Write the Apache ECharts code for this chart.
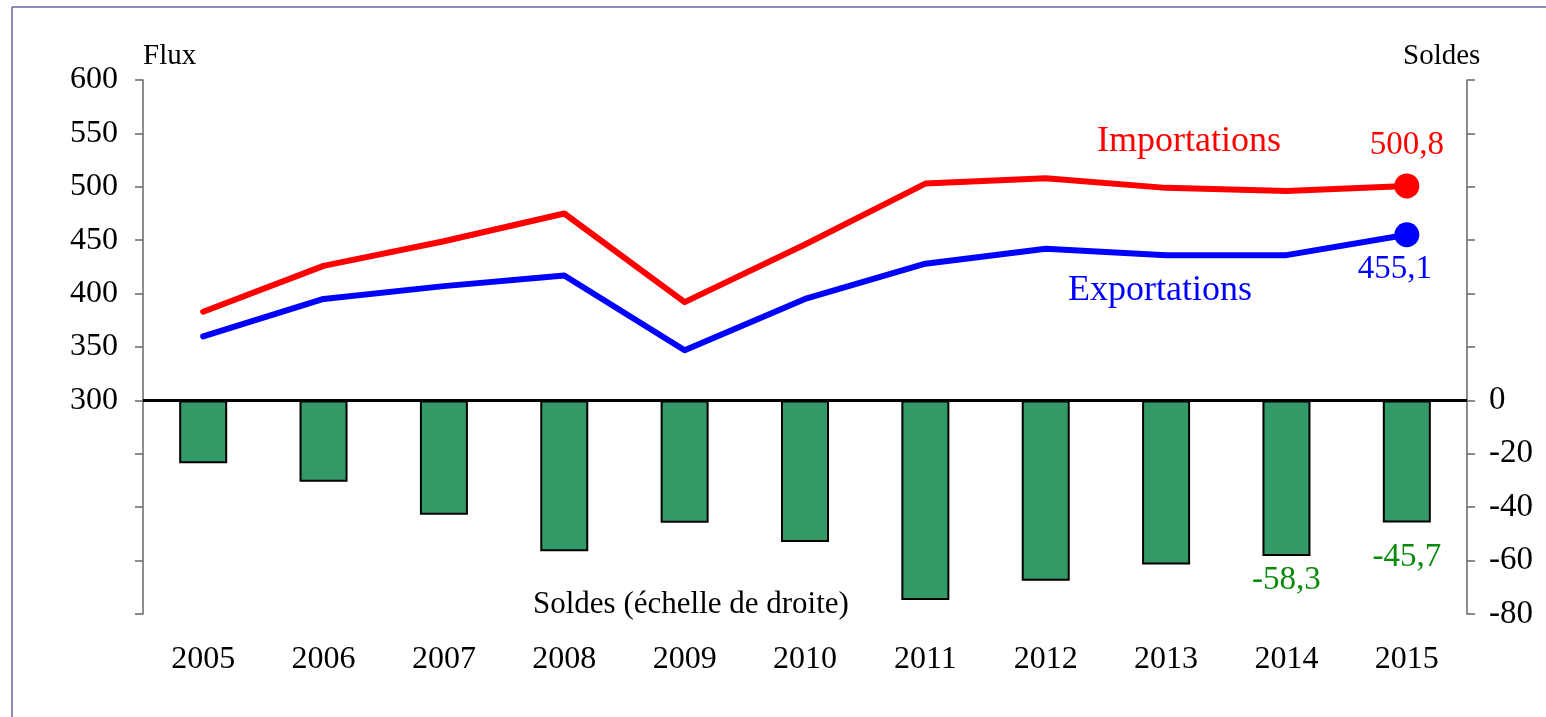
<!DOCTYPE html>
<html>
<head>
<meta charset="utf-8">
<script src="https://cdn.jsdelivr.net/npm/echarts@6/dist/echarts.min.js"></script>
<style>
html, body { margin: 0; padding: 0; background: #fff; }
#chart { width: 1546px; height: 717px; }
</style>
</head>
<body>
<div id="chart"></div>
<script>
// données
var annees = ['2005', '2006', '2007', '2008', '2009', '2010', '2011', '2012', '2013', '2014', '2015'];
var importations = [383, 426, 449, 475, 392, 446, 503, 508, 499, 496, 500.8];
var exportations = [360, 395, 407, 417, 347, 395, 428, 442, 436, 436, 455.1];
var soldes = [-23.5, -30.5, -42.8, -56.5, -45.8, -53, -74.8, -67.5, -61.5, -58.3, -45.7];
var etiquettesSoldes = ['', '', '', '', '', '', '', '', '', '-58,3', '-45,7'];
var etiquettesImport = ['', '', '', '', '', '', '', '', '', '', '500,8'];
var etiquettesExport = ['', '', '', '', '', '', '', '', '', '', '455,1'];

var police = '"Liberation Serif", "Times New Roman", serif';
var dernier = annees.length - 1;

var chart = echarts.init(document.getElementById('chart'));

// la dernière barre a son étiquette un peu plus bas
var donneesSoldes = soldes.map(function (v, i) {
	if (i === dernier) {
		return { value: v, label: { distance: 18 } };
	}
	return v;
});

var option = {
	animation: false,
	backgroundColor: '#fff',
	grid: {
		left: 143,
		right: 79,
		top: 80,
		bottom: 103
	},
	xAxis: {
		type: 'category',
		data: annees,
		boundaryGap: true,
		axisLine: { show: false },
		axisTick: { show: false },
		axisLabel: {
			margin: 30,
			fontFamily: police,
			fontSize: 32,
			color: '#000'
		}
	},
	yAxis: [
		{
			type: 'value',
			min: 100,
			max: 600,
			interval: 50,
			position: 'left',
			splitLine: { show: false },
			axisLine: { show: true, lineStyle: { color: '#666', width: 1.5 } },
			axisTick: { show: true, inside: false, length: 8, lineStyle: { color: '#666', width: 1.5 } },
			axisLabel: {
				margin: 25,
				fontFamily: police,
				fontSize: 32,
				color: '#000',
				formatter: function (v) { return v >= 300 ? String(v) : ''; }
			}
		},
		{
			type: 'value',
			min: -80,
			max: 120,
			interval: 20,
			position: 'right',
			splitLine: { show: false },
			axisLine: { show: true, lineStyle: { color: '#666', width: 1.5 } },
			axisTick: { show: true, inside: false, length: 8, lineStyle: { color: '#666', width: 1.5 } },
			axisLabel: {
				margin: 22,
				fontFamily: police,
				fontSize: 33,
				color: '#000',
				formatter: function (v) { return v <= 0 ? String(v) : ''; }
			}
		}
	],
	graphic: [
		// cadre gauche et haut
		{ type: 'line', shape: { x1: 12, y1: 7, x2: 12, y2: 717 }, style: { stroke: '#6464a8', lineWidth: 1.5 }, z: 100 },
		{ type: 'line', shape: { x1: 12, y1: 7, x2: 1546, y2: 7 }, style: { stroke: '#6464a8', lineWidth: 1.5 }, z: 100 },
		{ type: 'text', left: 143, top: 42, style: { text: 'Flux', font: '29px ' + police, fill: '#000' } },
		{ type: 'text', left: 1403, top: 42, style: { text: 'Soldes', font: '29px ' + police, fill: '#000' } },
		{ type: 'text', left: 1097, top: 124, style: { text: 'Importations', font: '36px ' + police, fill: '#ff0000' } },
		{ type: 'text', left: 1068, top: 273, style: { text: 'Exportations', font: '36px ' + police, fill: '#0000ff' } },
		{ type: 'text', left: 533, top: 589, style: { text: 'Soldes (échelle de droite)', font: '31px ' + police, fill: '#000' } }
	],
	series: [
		{
			name: 'Soldes',
			type: 'bar',
			yAxisIndex: 1,
			data: donneesSoldes,
			barWidth: 48,
			itemStyle: { color: '#339966', borderColor: '#000', borderWidth: 2 },
			label: {
				show: true,
				position: 'bottom',
				distance: 8,
				fontFamily: police,
				fontSize: 33,
				color: '#0a8a0a',
				formatter: function (p) { return etiquettesSoldes[p.dataIndex]; }
			},
			markLine: {
				silent: true,
				symbol: 'none',
				label: { show: false },
				lineStyle: { color: '#000', width: 3, type: 'solid' },
				data: [{ yAxis: 0 }]
			},
			z: 2
		},
		{
			name: 'Importations',
			type: 'line',
			yAxisIndex: 0,
			data: importations,
			symbol: 'circle',
			showAllSymbol: true,
			symbolSize: function (v, p) { return p.dataIndex === dernier ? 25 : 0; },
			lineStyle: { color: '#ff0000', width: 6, cap: 'round', join: 'round' },
			itemStyle: { color: '#ff0000' },
			label: {
				show: true,
				position: 'top',
				distance: 12,
				fontFamily: police,
				fontSize: 33,
				color: '#ff0000',
				formatter: function (p) { return etiquettesImport[p.dataIndex]; }
			},
			z: 3
		},
		{
			name: 'Exportations',
			type: 'line',
			yAxisIndex: 0,
			data: exportations,
			symbol: 'circle',
			showAllSymbol: true,
			symbolSize: function (v, p) { return p.dataIndex === dernier ? 25 : 0; },
			lineStyle: { color: '#0000ff', width: 6, cap: 'round', join: 'round' },
			itemStyle: { color: '#0000ff' },
			label: {
				show: true,
				position: 'bottom',
				distance: 6,
				offset: [-12, 0],
				fontFamily: police,
				fontSize: 33,
				color: '#0000ff',
				formatter: function (p) { return etiquettesExport[p.dataIndex]; }
			},
			z: 3
		}
	]
};

chart.setOption(option);
</script>
</body>
</html>
